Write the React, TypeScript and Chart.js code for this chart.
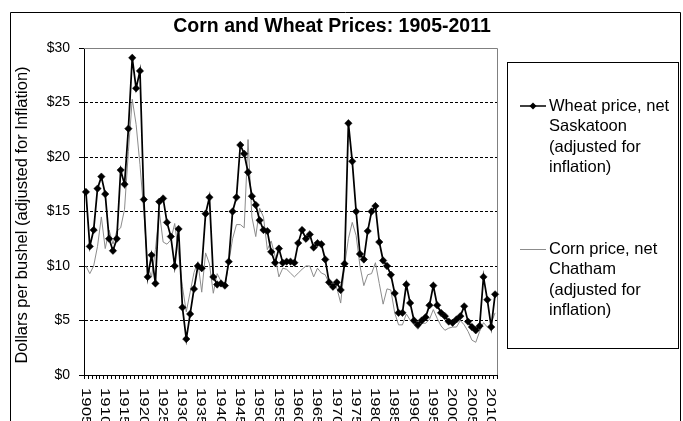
import React, { useEffect, useRef } from 'react';
import { Chart, registerables } from 'chart.js';

Chart.register(...registerables);

const years: string[] = Array.from({ length: 107 }, (_, i) => String(1905 + i));

const xTickLabels = [
  '1905', '1910', '1915', '1920', '1925', '1930', '1935', '1940', '1945', '1950', '1955',
  '1960', '1965', '1970', '1975', '1980', '1985', '1990', '1995', '2000', '2005', '2010',
];

// Wheat price, net Saskatoon (adjusted for inflation), 1905-2011
const wheat = [
  16.8, 11.8, 13.3, 17.1, 18.2, 16.6, 12.5, 11.4, 12.5, 18.8, // 1905-1914
  17.5, 22.6, 29.1, 26.3, 27.9, 16.1, 9.0, 11.0, 8.4, 15.9, // 1915-1924
  16.2, 14.0, 12.7, 10.0, 13.4, 6.2, 3.3, 5.6, 7.9, 10.0, // 1925-1934
  9.8, 14.8, 16.3, 9.0, 8.3, 8.4, 8.2, 10.4, 15.0, 16.3, // 1935-1944
  21.1, 20.3, 18.6, 16.4, 15.6, 14.2, 13.3, 13.2, 11.3, 10.3, // 1945-1954
  11.6, 10.3, 10.4, 10.4, 10.3, 12.1, 13.3, 12.5, 12.9, 11.7, // 1955-1964
  12.1, 12.0, 10.6, 8.5, 8.1, 8.5, 7.8, 10.2, 23.1, 19.6, // 1965-1974
  15.0, 11.1, 10.6, 13.2, 15.0, 15.5, 12.2, 10.5, 10.0, 9.2, // 1975-1984
  7.5, 5.7, 5.7, 8.3, 6.6, 5.0, 4.6, 5.0, 5.3, 6.4, // 1985-1994
  8.2, 6.4, 5.7, 5.4, 4.9, 4.8, 5.1, 5.4, 6.3, 4.9, // 1995-2004
  4.4, 4.1, 4.5, 9.0, 6.9, 4.4, 7.4, // 2005-2011
];

// Corn price, net Chatham (adjusted for inflation), 1905-2011
const corn = [
  10.0, 9.3, 10.0, 11.8, 14.5, 11.6, 13.3, 12.0, 13.2, 13.5, // 1905-1914
  15.2, 20.5, 25.3, 23.0, 19.3, 15.0, 10.0, 9.0, 11.5, 15.0, // 1915-1924
  12.2, 12.0, 12.4, 13.9, 11.2, 8.1, 5.8, 7.6, 9.4, 10.4, // 1925-1934
  7.6, 11.2, 10.2, 7.5, 9.3, 8.6, 8.1, 10.3, 12.5, 13.8, // 1935-1944
  13.8, 13.5, 21.6, 14.5, 12.7, 15.3, 14.5, 11.5, 12.3, 10.9, // 1945-1954
  9.0, 9.8, 9.7, 9.35, 9.0, 9.35, 9.7, 10.0, 10.0, 9.0, // 1955-1964
  9.8, 9.35, 9.2, 8.4, 8.0, 8.0, 6.6, 10.0, 12.5, 14.0, // 1965-1974
  12.8, 10.0, 8.2, 9.2, 9.3, 10.3, 8.4, 6.5, 7.9, 7.8, // 1975-1984
  5.7, 4.6, 4.6, 5.6, 5.05, 4.6, 4.2, 4.75, 4.75, 5.1, // 1985-1994
  6.0, 5.2, 4.5, 4.1, 4.3, 4.4, 4.4, 5.0, 4.6, 4.0, // 1995-2004
  3.2, 3.0, 4.0, 4.8, 4.4, 4.75, 5.7, // 2005-2011
];

const titleText = 'Corn and Wheat Prices: 1905-2011';
const yAxisTitle = 'Dollars per bushel (adjusted for Inflation)';
const wheatLegend = ['Wheat price, net', 'Saskatoon', '(adjusted for', 'inflation)'];
const cornLegend = ['Corn price, net', 'Chatham', '(adjusted for', 'inflation)'];

const FONT = '"Liberation Sans", Arial, sans-serif';

const decorPlugin = {
  id: 'decor',
  beforeDraw(chart: any) {
    const ctx = chart.ctx as CanvasRenderingContext2D;
    ctx.save();
    ctx.fillStyle = '#fff';
    ctx.fillRect(0, 0, chart.width, chart.height);
    // outer chart frame
    ctx.strokeStyle = '#000';
    ctx.lineWidth = 1;
    ctx.beginPath();
    ctx.moveTo(10.5, 430);
    ctx.lineTo(10.5, 12.5);
    ctx.lineTo(680.5, 12.5);
    ctx.lineTo(680.5, 430);
    ctx.stroke();
    ctx.restore();
  },
  beforeDatasetsDraw(chart: any) {
    const ctx = chart.ctx as CanvasRenderingContext2D;
    const a = chart.chartArea;
    ctx.save();
    ctx.strokeStyle = '#808080';
    ctx.lineWidth = 1;
    ctx.beginPath();
    ctx.moveTo(a.left, Math.round(a.top) + 0.5);
    ctx.lineTo(Math.round(a.right) + 0.5, Math.round(a.top) + 0.5);
    ctx.lineTo(Math.round(a.right) + 0.5, a.bottom);
    ctx.stroke();
    ctx.restore();
  },
  afterDraw(chart: any) {
    const ctx = chart.ctx as CanvasRenderingContext2D;
    const a = chart.chartArea;
    const xs = chart.scales.x;
    ctx.save();

    // title
    ctx.fillStyle = '#000';
    ctx.font = `bold 19.5px ${FONT}`;
    ctx.textAlign = 'center';
    ctx.textBaseline = 'middle';
    ctx.fillText(titleText, 332, 27);

    // y-axis title
    ctx.save();
    ctx.translate(22, 215);
    ctx.rotate(-Math.PI / 2);
    ctx.font = `16.5px ${FONT}`;
    ctx.textAlign = 'center';
    ctx.textBaseline = 'middle';
    ctx.fillText(yAxisTitle, 0, 0);
    ctx.restore();

    // x-axis category tick marks
    const n = years.length;
    const step = (xs.getPixelForValue(n - 1) - xs.getPixelForValue(0)) / (n - 1);
    ctx.strokeStyle = '#000';
    ctx.lineWidth = 1;
    ctx.beginPath();
    for (let i = 0; i <= n; i++) {
      const px = Math.round(xs.getPixelForValue(0) - step / 2 + i * step) + 0.5;
      ctx.moveTo(px, a.bottom);
      ctx.lineTo(px, a.bottom + 4);
    }
    ctx.stroke();

    // x-axis labels, rotated clockwise (stretched along the text as in the original)
    ctx.font = `12px ${FONT}`;
    ctx.textAlign = 'left';
    ctx.textBaseline = 'middle';
    for (const lab of xTickLabels) {
      const idx = years.indexOf(lab);
      const px = xs.getPixelForValue(idx);
      ctx.save();
      ctx.translate(px - 1, a.bottom + 13);
      ctx.rotate(Math.PI / 2);
      ctx.scale(1.4, 1);
      ctx.fillText(lab, 0, 0);
      ctx.restore();
    }

    // legend box
    ctx.strokeStyle = '#000';
    ctx.lineWidth = 1;
    ctx.strokeRect(507.5, 62.5, 171, 286);
    ctx.font = `16.5px ${FONT}`;
    ctx.textAlign = 'left';
    ctx.textBaseline = 'middle';
    const lx0 = 520;
    const lx1 = 546;
    const tx = 549;
    const lh = 20.5;
    const wy = 106;
    const cy = 249;
    // wheat sample
    ctx.strokeStyle = '#000';
    ctx.lineWidth = 1.5;
    ctx.beginPath();
    ctx.moveTo(lx0, wy);
    ctx.lineTo(lx1, wy);
    ctx.stroke();
    ctx.fillStyle = '#000';
    ctx.beginPath();
    const mx = (lx0 + lx1) / 2;
    ctx.moveTo(mx, wy - 3.5);
    ctx.lineTo(mx + 3.5, wy);
    ctx.lineTo(mx, wy + 3.5);
    ctx.lineTo(mx - 3.5, wy);
    ctx.closePath();
    ctx.fill();
    wheatLegend.forEach((t, i) => ctx.fillText(t, tx, wy + i * lh));
    // corn sample
    ctx.strokeStyle = '#8c8c8c';
    ctx.lineWidth = 1;
    ctx.beginPath();
    ctx.moveTo(lx0, cy + 0.5);
    ctx.lineTo(lx1, cy + 0.5);
    ctx.stroke();
    cornLegend.forEach((t, i) => ctx.fillText(t, tx, cy + i * lh));

    ctx.restore();
  },
};

export default function App() {
  const ref = useRef<HTMLCanvasElement>(null);
  useEffect(() => {
    const canvas = ref.current;
    if (!canvas) return;
    const chart = new Chart(canvas, {
      type: 'line',
      data: {
        labels: years,
        datasets: [
          {
            label: 'Wheat price, net Saskatoon (adjusted for inflation)',
            data: wheat,
            borderColor: '#000',
            backgroundColor: '#000',
            borderWidth: 1.75,
            pointStyle: 'rectRot',
            pointRadius: 3.7,
            pointBackgroundColor: '#000',
            pointBorderColor: '#000',
            pointBorderWidth: 0.5,
            tension: 0,
            order: 1,
          },
          {
            label: 'Corn price, net Chatham (adjusted for inflation)',
            data: corn,
            borderColor: '#8c8c8c',
            backgroundColor: '#8c8c8c',
            borderWidth: 1,
            pointRadius: 0,
            tension: 0,
            order: 2,
          },
        ],
      },
      options: {
        responsive: false,
        animation: false,
        devicePixelRatio: 1,
        events: [],
        layout: { padding: { left: 0, top: 48, right: 186, bottom: 0 } },
        plugins: {
          legend: { display: false },
          title: { display: false },
          tooltip: { enabled: false },
        },
        scales: {
          x: {
            type: 'category',
            offset: true,
            grid: { display: false, drawTicks: false },
            border: { display: true, color: '#000', width: 1 },
            ticks: { display: false },
            afterFit: (s: any) => {
              s.height = 46;
            },
          },
          y: {
            min: 0,
            max: 30,
            ticks: {
              stepSize: 5,
              color: '#000',
              padding: 9,
              font: { family: FONT, size: 14 },
              callback: (v: any) => '$' + v,
            },
            grid: {
              color: (c: any) =>
                c.tick && (c.tick.value === 0 || c.tick.value === 30) ? 'rgba(0,0,0,0)' : '#000',
              lineWidth: 1,
              drawTicks: true,
              tickLength: 5,
              tickColor: '#000',
              tickBorderDash: [],
            },
            border: { display: true, color: '#000', width: 1, dash: [3, 2] },
            afterFit: (s: any) => {
              s.width = 84;
            },
          },
        },
      },
      plugins: [decorPlugin],
    } as any);
    return () => chart.destroy();
  }, []);

  return (
    <div
      style={{
        position: 'absolute',
        left: 0,
        top: 0,
        width: 683,
        height: 421,
        overflow: 'hidden',
        background: '#fff',
      }}
    >
      <canvas ref={ref} width={683} height={421} style={{ display: 'block', width: 683, height: 421 }} />
    </div>
  );
}
